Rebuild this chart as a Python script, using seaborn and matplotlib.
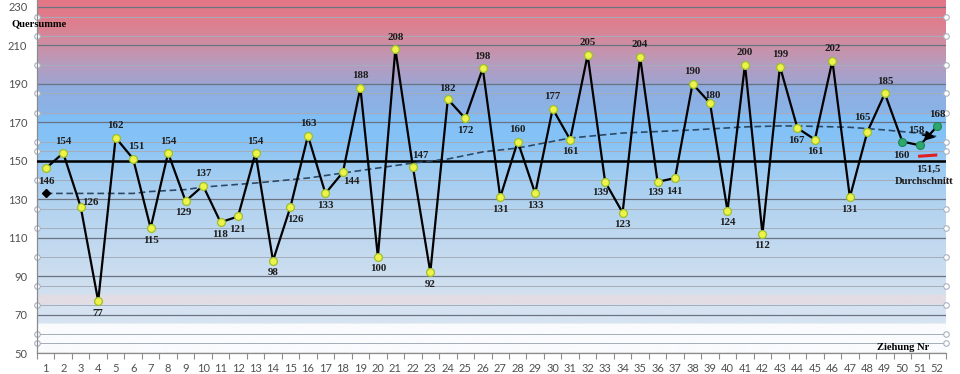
import numpy as np
import pandas as pd
import matplotlib
matplotlib.use("Agg")
import matplotlib.pyplot as plt
import seaborn as sns
from matplotlib.colors import to_rgb

# ---------------- data ----------------
draws = list(range(1, 53))
quersumme = [146, 154, 126, 77, 162, 151, 115, 154, 129, 137, 118, 121, 154, 98, 126,
             163, 133, 144, 188, 100, 208, 147, 92, 182, 172, 198, 131, 160, 133, 177,
             161, 205, 139, 123, 204, 139, 141, 190, 180, 124, 200, 112, 199, 167, 161,
             202, 131, 165, 185, 160, 158, 168]
recent_draws = [50, 51, 52]
reference_level = 150
average = 151.5
average_label = "151,5"
trend_x = [1, 6, 7, 9, 10, 13, 16, 18, 20, 22, 24, 26, 28, 31, 34, 38, 41, 43, 44, 47, 49, 51, 52]
trend_y = [133, 133, 134, 135, 136.3, 138.4, 141, 143.6, 146.2, 148.8, 150.9, 154.6, 156.6,
           161.8, 164.4, 166, 167.6, 168.1, 168.1, 167.4, 166, 164.3, 162.5]
band_levels = [225, 215, 200, 185, 175, 160, 155, 140, 125, 115, 100, 85, 75, 60, 55]
y_ticks = list(range(50, 231, 20))

# label offsets in pixels (dx, dy)
label_offsets = [(1, -13), (0, 12), (10, 4), (0, -12), (0, 12), (3, 12), (0, -12), (0, 12),
                 (-2, -11), (0, 12), (-1, -12), (-1, -13), (0, 12), (0, -12), (5, -13),
                 (0, 12), (0, -12), (8, -9), (0, 12), (0, -12), (0, 12), (7, 11), (0, -12),
                 (0, 11), (0, -12), (0, 12), (0, -12), (0, 12), (0, -12), (0, 12), (0, -12),
                 (0, 12), (-5, -11), (0, -12), (0, 12), (-2, -11), (-1, -13), (0, 12),
                 (2, 8), (0, -12), (0, 12), (0, -12), (0, 12), (-1, -12), (0, -12), (0, 12),
                 (0, -12), (-5, 14), (0, 12), (-1, -14), (-3, 15), (0, 12)]

df = pd.DataFrame({"draw": draws, "sum": quersumme})
df["group"] = np.where(df["draw"].isin(recent_draws), "new", "old")

# ---------------- style ----------------
sns.set_theme(style="white")
plt.rcParams["font.family"] = ["Lato", "DejaVu Sans"]
SERIF = ["Liberation Serif", "DejaVu Serif"]

fig = plt.figure(figsize=(9.6, 3.74), dpi=100)
ax = fig.add_axes([37 / 960, 21 / 374, 909 / 960, 1 - 21 / 374])

YMIN, YMAX = 50, 233.6
ax.set_xlim(0.5, 52.5)
ax.set_ylim(YMIN, YMAX)

# background gradient
stops = [(50, "#fafbfd"), (65, "#fafbfd"), (65.5, "#d6e3f1"), (75, "#d6e3f1"),
         (75.5, "#e3dce4"), (80, "#e3dce4"), (80.5, "#d2e0ef"), (100, "#c6dbef"),
         (130, "#b0d2f0"), (150, "#98c9f2"), (160, "#86c3f6"), (173.5, "#80bff6"),
         (174.5, "#8ab4e8"), (189.5, "#90acde"), (190.5, "#a0a4d0"), (200, "#b69cbf"),
         (210, "#cc90a6"), (220, "#dc8090"), (233.6, "#e47686")]
sv = np.array([s[0] for s in stops])
sc = np.array([to_rgb(s[1]) for s in stops])
vs = np.linspace(YMIN, YMAX, 900)
img = np.stack([np.interp(vs, sv, sc[:, i]) for i in range(3)], axis=1)[:, None, :]
ax.imshow(img, extent=[0.5, 52.5, YMIN, YMAX], origin="lower", aspect="auto", zorder=0)

# grid lines
for y in y_ticks:
    ax.axhline(y, color="#6b7383", lw=0.9, zorder=1)
for y in band_levels:
    ax.plot([0.5, 52.5], [y, y], color="#a5adbb", lw=0.7, marker="o", ms=4,
            mfc="white", mec="#a9b1c0", mew=0.8, zorder=1, clip_on=False)

# reference line
ax.axhline(reference_level, color="black", lw=1.8, zorder=3)

# trend line
ax.plot(trend_x, trend_y, color="#2c4a66", lw=1.2, ls=(0, (4, 2.2)), zorder=3)
ax.plot(trend_x[0], trend_y[0], marker="D", ms=4, color="black", zorder=4)
ax.annotate("", xy=(52.05, 161.9), xytext=(51.0, 163.6),
            arrowprops=dict(arrowstyle="-|>", color="black", lw=1.0, mutation_scale=15),
            zorder=5)

# data line and markers
sns.lineplot(data=df, x="draw", y="sum", color="black", lw=1.6, ax=ax, zorder=4,
             estimator=None, sort=False)
sns.scatterplot(data=df[df["group"] == "old"], x="draw", y="sum", color="#eef24a",
                edgecolor="#9cbf2a", linewidth=0.9, s=32, ax=ax, zorder=5, legend=False)
sns.scatterplot(data=df[df["group"] == "new"], x="draw", y="sum", color="#2fa870",
                edgecolor="#1d8a55", linewidth=0.9, s=32, ax=ax, zorder=5, legend=False)

for (x, v), (dx, dy) in zip(zip(draws, quersumme), label_offsets):
    ax.annotate(str(v), (x, v), xytext=(dx, dy), textcoords="offset pixels",
                ha="center", va="center", fontfamily=SERIF, fontweight="bold",
                fontsize=7.8, color="#1c1c1c", zorder=6)

# average marker / text
ax.plot([50.9, 52.0], [152.3, 153.0], color="#e02020", lw=2.2, zorder=5,
        solid_capstyle="butt")
ax.text(51.5, 145.3, average_label, ha="center", va="center", fontfamily=SERIF,
        fontweight="bold", fontsize=7.8, color="#1c1c1c", zorder=6)
ax.text(51.25, 139, "Durchschnitt", ha="center", va="center", fontfamily=SERIF,
        fontweight="bold", fontsize=7.6, color="#1c1c1c", zorder=6, clip_on=False)

fig.text(11 / 960, 1 - 24 / 374, "Quersumme", ha="left", va="center", fontfamily=SERIF,
         fontweight="bold", fontsize=7.6, color="black")
fig.text(929 / 960, 1 - 347 / 374, "Ziehung Nr", ha="right", va="center", fontfamily=SERIF,
         fontweight="bold", fontsize=7.6, color="black")

# axes
ax.set_xticks(draws)
ax.set_xticklabels([str(d) for d in draws])
ax.set_xticks(np.arange(0.5, 53, 1), minor=True)
ax.set_yticks(y_ticks)
ax.tick_params(axis="x", which="major", length=0, pad=7, labelsize=8, labelcolor="#505050")
ax.tick_params(axis="x", which="minor", length=4, width=0.8, color="#8c8c8c", direction="out",
               bottom=True)
ax.tick_params(axis="y", length=0, pad=7, labelsize=8, labelcolor="#505050")
ax.set_xlabel("")
ax.set_ylabel("")
for s in ["top", "right"]:
    ax.spines[s].set_visible(False)
for s in ["left", "bottom"]:
    ax.spines[s].set_color("#8c8c8c")
    ax.spines[s].set_linewidth(0.9)
    ax.spines[s].set_zorder(2)

fig.savefig("out.png", dpi=100)
